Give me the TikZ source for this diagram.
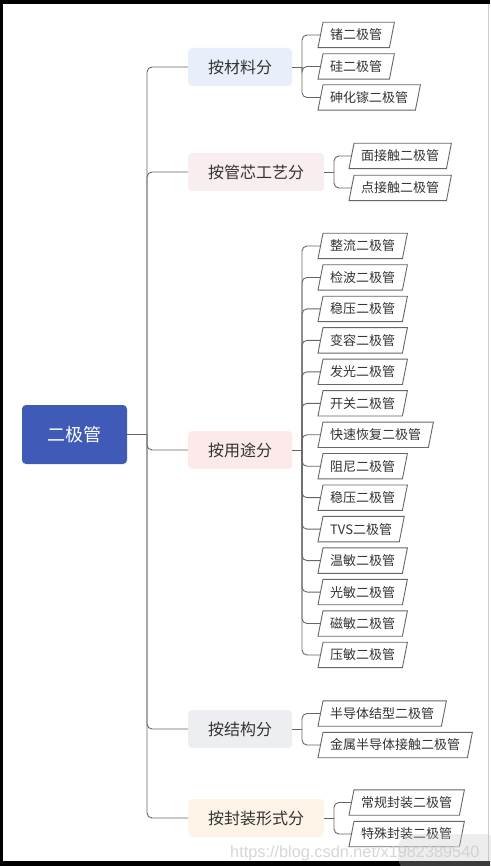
\documentclass[tikz,border=0pt]{standalone}
\usepackage{fontspec}
\newfontfamily\cjk{Noto Sans CJK SC}
\newfontfamily\wmfont{Liberation Sans}
\usetikzlibrary{calc}
\definecolor{rootblue}{HTML}{3F5BB7}
\definecolor{linegray}{HTML}{666666}
\definecolor{txt}{HTML}{333333}
\definecolor{fA}{HTML}{E8EFFA}
\definecolor{fB}{HTML}{F8EEEF}
\definecolor{fC}{HTML}{FBEAE9}
\definecolor{fD}{HTML}{EDEEF2}
\definecolor{fE}{HTML}{FDF4E7}
\tikzset{
  rootbox/.style={fill=rootblue, rounded corners=4pt, minimum width=105pt, minimum height=59pt,
    text=white, font=\cjk\fontsize{18pt}{20pt}\selectfont, inner sep=0pt},
  catbox/.style={rounded corners=4pt, minimum height=38pt, inner xsep=20pt, inner ysep=0pt,
    text=txt, font=\cjk\fontsize{16pt}{18pt}\selectfont, anchor=west},
  leafbox/.style={minimum height=25pt, inner xsep=9.5pt, inner ysep=0pt,
    text=txt, font=\cjk\fontsize{13pt}{15pt}\selectfont, anchor=west},
  conn/.style={draw=linegray, line width=0.9pt, rounded corners=5pt},
  para/.style={draw=linegray, line width=0.9pt, fill=white}
}
\newcommand{\leafnode}[4]{%
  \node[leafbox] (#1) at (#2,#3) {#4};
  \begin{pgfonlayer}{bg}
  \path[para] ($(#1.south west)+(-2.5pt,0)$) -- ($(#1.north west)+(2.5pt,0)$) --
    ($(#1.north east)+(2.5pt,0)$) -- ($(#1.south east)+(-2.5pt,0)$) -- cycle;
  \end{pgfonlayer}%
}
\pgfdeclarelayer{bg}
\pgfsetlayers{bg,main}
\begin{document}
\begin{tikzpicture}[x=1pt,y=-1pt]
\useasboundingbox (0,0) rectangle (490,866);
\begin{pgfonlayer}{bg}
\fill[white] (0,0) rectangle (490,866);
\end{pgfonlayer}
% frame
\fill[black] (0,0) rectangle (490,4);
\fill[black] (0,0) rectangle (3,866);
\fill[black] (0,861) rectangle (490,866);
\draw[gray!40, line width=0.6pt] (488.5,4) -- (488.5,861);

% root
\node[rootbox] (root) at (74.5,434.5) {二极管};
\coordinate (hub) at (147,434.5);
\draw[conn] (root.east) -- (hub);

% categories
\node[catbox, fill=fA] (c1) at (188,67) {按材料分};
\node[catbox, fill=fB] (c2) at (188,172) {按管芯工艺分};
\node[catbox, fill=fC] (c3) at (188,450) {按用途分};
\node[catbox, fill=fD] (c4) at (188,729) {按结构分};
\node[catbox, fill=fE] (c5) at (188,818) {按封装形式分};
\foreach \c in {c1,c2,c3,c4,c5} \draw[conn] (hub) |- (\c.west);

% group 1
\leafnode{l11}{320.5}{35}{锗二极管}
\leafnode{l12}{320.5}{66.5}{硅二极管}
\leafnode{l13}{320.5}{97.5}{砷化镓二极管}
\coordinate (s1) at (302,67);
\draw[conn] (c1.east) -- (s1);
\foreach \l in {l11,l12,l13} \draw[conn] (s1) |- (\l.west);

% group 2
\leafnode{l21}{351.5}{156}{面接触二极管}
\leafnode{l22}{351.5}{188}{点接触二极管}
\coordinate (s2) at (334,172);
\draw[conn] (c2.east) -- (s2);
\foreach \l in {l21,l22} \draw[conn] (s2) |- (\l.west);

% group 3
\coordinate (s3) at (302,450);
\draw[conn] (c3.east) -- (s3);
\foreach \t [count=\i from 0] in {整流二极管,检波二极管,稳压二极管,变容二极管,发光二极管,开关二极管,快速恢复二极管,阻尼二极管,稳压二极管,TVS二极管,温敏二极管,光敏二极管,磁敏二极管,压敏二极管}{
  \pgfmathsetmacro{\yy}{246+31.46*\i}
  \leafnode{l3\i}{320.5}{\yy}{\t}
  \draw[conn] (s3) |- (l3\i.west);
}

% group 4
\leafnode{l41}{320.5}{713.5}{半导体结型二极管}
\leafnode{l42}{320.5}{745}{金属半导体接触二极管}
\coordinate (s4) at (302,729);
\draw[conn] (c4.east) -- (s4);
\foreach \l in {l41,l42} \draw[conn] (s4) |- (\l.west);

% group 5
\leafnode{l51}{351.5}{802.5}{常规封装二极管}
\leafnode{l52}{351.5}{834}{特殊封装二极管}
\coordinate (s5) at (334,818);
\draw[conn] (c5.east) -- (s5);
\foreach \l in {l51,l52} \draw[conn] (s5) |- (\l.west);

% watermark
\fill[gray!45, opacity=0.3, rounded corners=15pt] (398,834) rectangle (500,872);
\node[anchor=base west, text=gray!40, opacity=0.8, font=\wmfont\fontsize{16.3pt}{18pt}\selectfont, inner sep=0pt] (wm) at (230,857) {https://blog.csdn.net/x1982389540};
\end{tikzpicture}
\end{document}
